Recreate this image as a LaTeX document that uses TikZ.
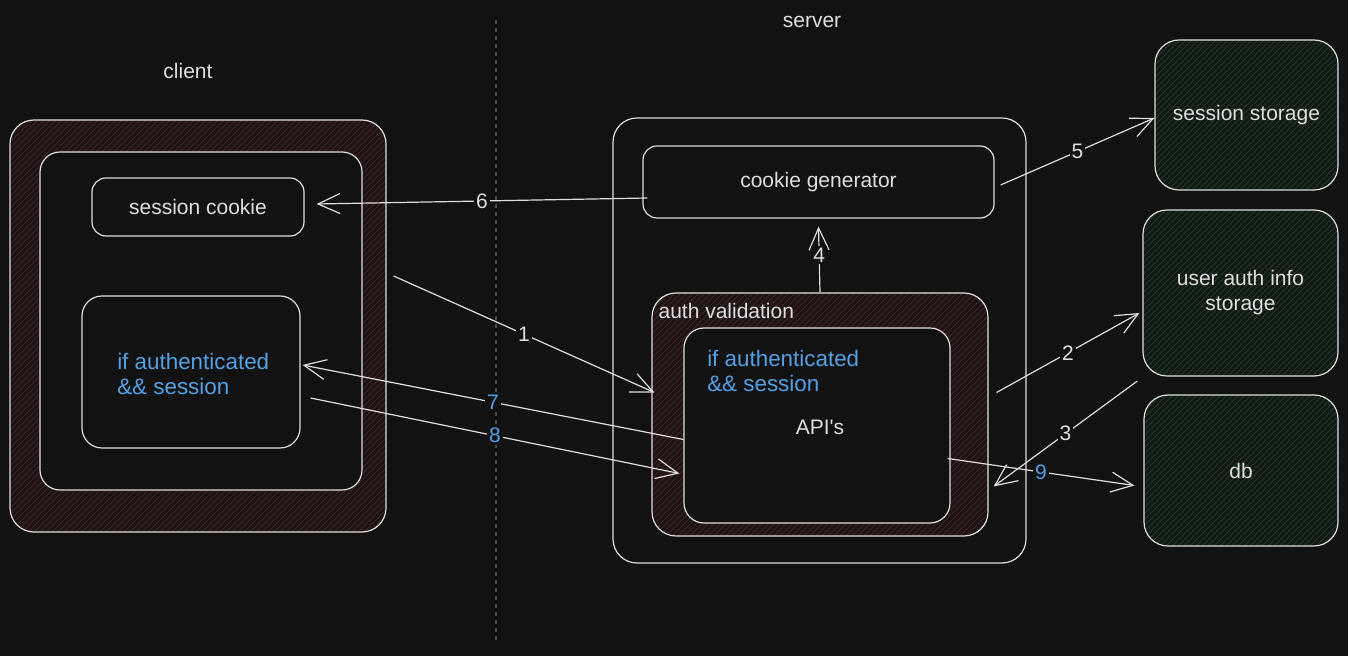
\documentclass[tikz,border=0pt]{standalone}
\usepackage{fontspec}
\setmainfont{Liberation Sans}
\usepackage{tikz}
\usetikzlibrary{positioning,calc,patterns,arrows.meta}
\definecolor{bg}{RGB}{18,18,18}
\definecolor{ink}{RGB}{222,222,222}
\definecolor{authblue}{RGB}{84,160,228}
\definecolor{redfill}{RGB}{26,20,20}
\definecolor{redhatch}{RGB}{72,34,34}
\definecolor{greenfill}{RGB}{16,25,18}
\definecolor{greenhatch}{RGB}{36,56,40}
\definecolor{divider}{RGB}{72,72,72}

\begin{document}
\begin{tikzpicture}[x=0.5pt, y=-0.5pt, line width=0.6pt,
    font=\fontsize{10.5}{12.5}\selectfont,
    box/.style = {draw=ink, rounded corners=7pt, fill=bg, inner sep=0pt, text=ink},
    redbox/.style = {draw=ink, rounded corners=12pt, inner sep=0pt, preaction={fill=redfill}, pattern=north east lines, pattern color=redhatch},
    greenbox/.style = {draw=ink, rounded corners=12pt, inner sep=0pt, preaction={fill=greenfill}, pattern=north east lines, pattern color=greenhatch, text=ink, align=center},
    txt/.style = {text=ink},
    check/.style = {text=authblue, align=left, anchor=west, font=\fontsize{11.2}{12.5}\selectfont},
    arrow/.style = {draw=ink, -{Straight Barb[length=11pt, width=10pt]}},
    lbl/.style = {fill=bg, inner sep=1pt, text=ink},
    bluelbl/.style = {lbl, text=authblue}]
    \useasboundingbox[fill=bg] (0,0) rectangle (1348,656);
    % Divider
    \coordinate (divtop) at (496,20);
    \coordinate (divbot) at (496,640);
    \draw[divider, dash pattern=on 2pt off 2pt] (divtop) -- (divbot);
    % Nodes
    \node[txt] (clientlbl) at (188,71) {client};
    \node[txt] (serverlbl) at (812,22) {server};
    \node[redbox, minimum width=188pt, minimum height=206pt] (clientouter) at (198,326) {};
    \node[box, rounded corners=10pt, minimum width=161pt, minimum height=169pt] (clientinner) at (201,321) {};
    \node[box, minimum width=106pt, minimum height=29pt] (sesscookie) at (198,207) {session cookie};
    \node[box, rounded corners=10pt, minimum width=109pt, minimum height=76pt] (clientauth) at (191,372) {};
    \node[check] (clientcheck) at (110,374) {if authenticated\\\&\& session};
    \node[box, rounded corners=12pt, minimum width=206.5pt, minimum height=222.5pt] (serverbox) at (819.5,340.5) {};
    \node[box, minimum width=175.5pt, minimum height=36pt] (cookiegen) at (818.5,182) {cookie generator};
    \node[redbox, minimum width=168pt, minimum height=121.5pt] (authval) at (820,414.5) {};
    \node[txt, anchor=west, inner sep=1pt] (authlbl) at (656,311) {auth validation};
    \node[box, rounded corners=10pt, minimum width=133pt, minimum height=97.5pt] (api) at (817,425.5) {};
    \node[check] (apicheck) at (700,371) {if authenticated\\\&\& session};
    \node[txt] (apilbl) at (820,427) {API\textquotesingle s};
    \node[greenbox, minimum width=91.5pt, minimum height=75pt] (sessstore) at (1246.5,115) {session storage};
    \node[greenbox, minimum width=97.5pt, minimum height=83pt] (userauth) at (1240.5,293) {user auth info\\storage};
    \node[greenbox, minimum width=97pt, minimum height=75.5pt] (db) at (1241,470.5) {db};
    % Edges
    \draw[arrow] ($(clientouter.east)+(7,-50)$) -- node[lbl] {1} ($(authval.west)+(3,-22)$);
    \draw[arrow] ($(authval.east)+(8,-22)$) -- node[lbl] {2} ($(userauth.west)+(-3,20)$);
    \draw[arrow] ($(userauth.west)+(-5,88)$) -- node[lbl] {3} ($(authval.east)+(5,72)$);
    \draw[arrow] (authval.north) -- node[lbl, pos=0.57] {4} ($(cookiegen.south)+(0,8)$);
    \draw[arrow] ($(cookiegen.east)+(6,3)$) -- node[lbl] {5} ($(sessstore.west)+(0,3)$);
    \draw[arrow] ($(cookiegen.west)+(5,16)$) -- node[lbl] {6} ($(sesscookie.east)+(12,-3)$);
    \draw[arrow] ($(api.west)+(0,14)$) -- node[bluelbl] {7} ($(clientauth.east)+(2,-7)$);
    \draw[arrow] ($(clientauth.east)+(10,26)$) -- node[bluelbl] {8} ($(api.west)+(-4,48)$);
    \draw[arrow] ($(api.east)+(-3,33)$) -- node[bluelbl] {9} ($(db.west)+(-9,15)$);
\end{tikzpicture}
\end{document}
